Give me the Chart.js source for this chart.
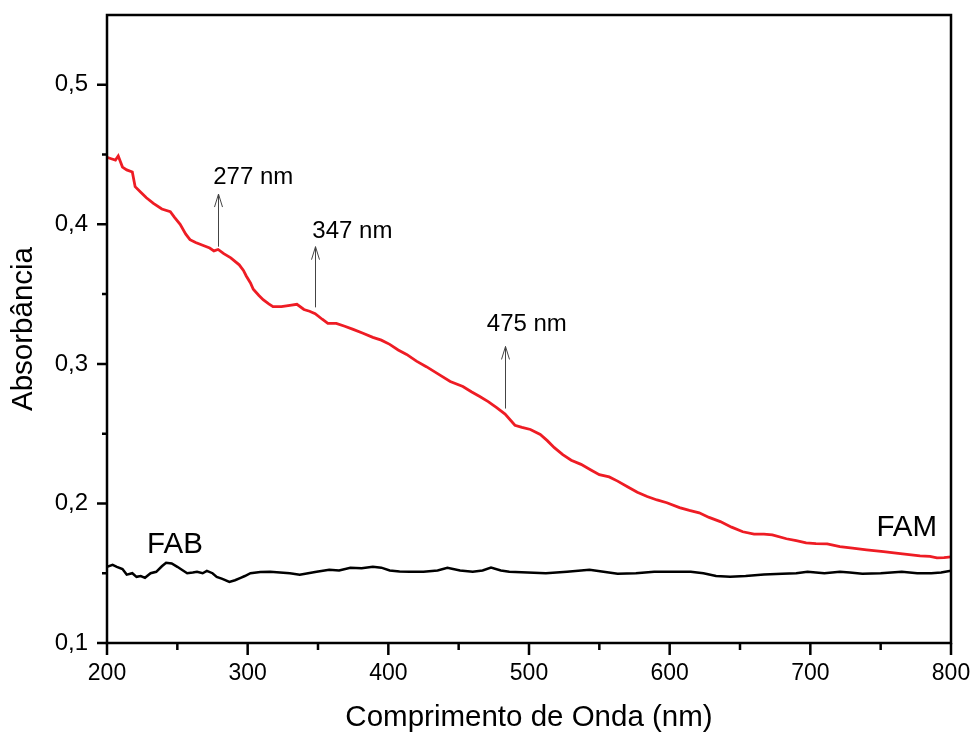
<!DOCTYPE html>
<html><head><meta charset="utf-8">
<script src="https://cdn.jsdelivr.net/npm/chart.js@4"></script>
<style>html,body{margin:0;padding:0;background:#fff}#wrap{width:970px;height:736px}</style>
</head><body><div id="wrap"><canvas id="c" width="970" height="736"></canvas></div>
<script>
// ---- data ----
const famWavelength = [200,203,206,208,211,214,218,220,224,228,233,239,245,248,252,256,259,263,268,273,276,279,283,288,294,297,299,302,304,308,311,315,318,324,330,335,340,344,348,353,357,363,369,375,382,389,395,401,407,413,420,427,435,444,453,459,465,471,477,483,490,495,501,508,513,518,524,530,537,544,550,557,563,570,577,584,591,598,607,614,621,628,636,644,652,660,667,673,683,690,697,704,712,721,730,740,752,764,778,785,790,795,800];
const famAbsorbance = [0.448,0.447,0.446,0.449,0.441,0.439,0.4375,0.427,0.423,0.419,0.415,0.411,0.409,0.405,0.400,0.393,0.389,0.387,0.385,0.383,0.381,0.382,0.379,0.376,0.371,0.367,0.363,0.358,0.3535,0.349,0.346,0.343,0.341,0.341,0.342,0.3427,0.339,0.3377,0.336,0.332,0.329,0.329,0.327,0.3247,0.322,0.319,0.317,0.314,0.310,0.3068,0.302,0.298,0.293,0.2874,0.2838,0.280,0.2766,0.273,0.2687,0.264,0.256,0.2545,0.253,0.2494,0.245,0.240,0.235,0.231,0.228,0.224,0.2206,0.219,0.216,0.212,0.208,0.205,0.2025,0.2005,0.197,0.195,0.1933,0.190,0.187,0.183,0.1797,0.178,0.178,0.1775,0.1747,0.1733,0.1718,0.1712,0.171,0.169,0.168,0.1668,0.1655,0.164,0.1625,0.162,0.161,0.1612,0.1617];
const fabWavelength = [200,204,207,211,214,218,221,224,227,231,235,239,242,246,250,254,257,261,264,268,271,275,278,282,287,291,295,298,302,309,316,323,330,337,343,349,358,365,373,381,389,395,401,408,415,425,435,442,451,460,467,473,480,486,499,512,527,543,553,563,576,589,602,615,624,633,643,654,667,680,690,698,710,721,728,737,750,765,776,786,793,800];
const fabAbsorbance = [0.1546,0.156,0.1546,0.153,0.149,0.150,0.1474,0.148,0.1467,0.150,0.151,0.155,0.1575,0.157,0.1546,0.152,0.150,0.1505,0.151,0.150,0.1517,0.150,0.1474,0.146,0.1438,0.145,0.1467,0.148,0.150,0.1508,0.151,0.1505,0.150,0.149,0.150,0.151,0.1524,0.152,0.1539,0.1535,0.1546,0.154,0.152,0.1512,0.151,0.151,0.152,0.1539,0.152,0.151,0.152,0.154,0.152,0.151,0.1505,0.150,0.151,0.1524,0.151,0.1496,0.150,0.151,0.151,0.151,0.150,0.148,0.1475,0.148,0.149,0.1496,0.150,0.151,0.150,0.151,0.1505,0.1496,0.150,0.151,0.150,0.150,0.1505,0.1517];

const xTickValues = [200,300,400,500,600,700,800];
const xTickLabels = ['200','300','400','500','600','700','800'];
const xMinorTicks = [250,350,450,550,650,750];
const yTickValues = [0.1,0.2,0.3,0.4,0.5];
const yTickLabels = ['0,1','0,2','0,3','0,4','0,5'];
const yMinorTicks = [0.15,0.25,0.35,0.45];

const peakLabels = ['277 nm','347 nm','475 nm'];
const peakArrowNm = [279,348,483];
const peakArrowBase = [0.384,0.3405,0.268];
const peakArrowTip = [0.4217,0.384,0.3125];

const seriesNames = ['FAM','FAB'];

// ---- layout (positions in data units) ----
const peakLabelPos = [{x:275.5,y:0.434},{x:346,y:0.3946},{x:470,y:0.328}];
const seriesLabelPos = [{x:747,y:0.1825},{x:228.5,y:0.170}];

const FONT = "'Liberation Sans', Arial, Helvetica, sans-serif";

function zeroPad(s) { s.paddingTop = 0; s.paddingBottom = 0; s.paddingLeft = 0; s.paddingRight = 0; }

const decor = {
  id: 'decor',
  afterDatasetsDraw(chart) {
    const {ctx, chartArea: a, scales: {x, y}} = chart;
    ctx.save();
    ctx.strokeStyle = '#000';
    ctx.lineWidth = 2.5;
    ctx.strokeRect(a.left, a.top, a.right - a.left, a.bottom - a.top);
    ctx.beginPath();
    xTickValues.forEach(v => { const p = x.getPixelForValue(v); ctx.moveTo(p, a.bottom); ctx.lineTo(p, a.bottom + 12); });
    xMinorTicks.forEach(v => { const p = x.getPixelForValue(v); ctx.moveTo(p, a.bottom); ctx.lineTo(p, a.bottom + 7); });
    yTickValues.forEach(v => { const p = y.getPixelForValue(v); ctx.moveTo(a.left, p); ctx.lineTo(a.left - 10, p); });
    yMinorTicks.forEach(v => { const p = y.getPixelForValue(v); ctx.moveTo(a.left, p); ctx.lineTo(a.left - 5, p); });
    ctx.stroke();

    // arrows
    ctx.strokeStyle = '#444';
    ctx.lineWidth = 1;
    peakArrowNm.forEach((nm, i) => {
      const px = Math.round(x.getPixelForValue(nm)) + 0.5;
      const yb = y.getPixelForValue(peakArrowBase[i]);
      const yt = y.getPixelForValue(peakArrowTip[i]);
      ctx.beginPath();
      ctx.moveTo(px, yb); ctx.lineTo(px, yt);
      ctx.moveTo(px - 4, yt + 13); ctx.lineTo(px, yt); ctx.lineTo(px + 4, yt + 13);
      ctx.stroke();
    });

    ctx.fillStyle = '#000';
    ctx.textBaseline = 'middle';
    ctx.textAlign = 'left';
    ctx.font = `24px ${FONT}`;
    peakLabels.forEach((t, i) => {
      ctx.fillText(t, x.getPixelForValue(peakLabelPos[i].x), y.getPixelForValue(peakLabelPos[i].y));
    });
    ctx.font = `29.5px ${FONT}`;
    seriesNames.forEach((t, i) => {
      ctx.fillText(t, x.getPixelForValue(seriesLabelPos[i].x), y.getPixelForValue(seriesLabelPos[i].y));
    });
    ctx.restore();
  }
};

new Chart(document.getElementById('c'), {
  type: 'line',
  data: {
    datasets: [
      { label: seriesNames[0], data: famWavelength.map((w, i) => ({x: w, y: famAbsorbance[i]})),
        borderColor: '#ee1c24', borderWidth: 2.8, pointRadius: 0, tension: 0, fill: false },
      { label: seriesNames[1], data: fabWavelength.map((w, i) => ({x: w, y: fabAbsorbance[i]})),
        borderColor: '#000', borderWidth: 2.5, pointRadius: 0, tension: 0, fill: false }
    ]
  },
  options: {
    responsive: false,
    animation: false,
    devicePixelRatio: 1,
    layout: { padding: { top: 15, right: 19, bottom: 0, left: 0 } },
    plugins: { legend: { display: false }, tooltip: { enabled: false } },
    scales: {
      x: {
        type: 'linear', min: 200, max: 800,
        afterBuildTicks: s => { s.ticks = xTickValues.map(v => ({value: v})); },
        afterFit: s => { s.height = 93; zeroPad(s); },
        ticks: { callback: (v, i) => xTickLabels[i], font: {family: FONT, size: 23}, color: '#000', padding: 17, maxRotation: 0, autoSkip: false },
        grid: { display: false, drawTicks: false, tickLength: 0 },
        border: { display: false },
        title: { display: true, text: 'Comprimento de Onda (nm)', color: '#000', font: {family: FONT, size: 29.5}, padding: {top: 0, bottom: 0} }
      },
      y: {
        type: 'linear', min: 0.1, max: 0.55,
        afterBuildTicks: s => { s.ticks = yTickValues.map(v => ({value: v})); },
        afterFit: s => { s.width = 107; zeroPad(s); },
        ticks: { callback: (v, i) => yTickLabels[i], font: {family: FONT, size: 24}, color: '#000', padding: 19, autoSkip: false },
        grid: { display: false, drawTicks: false, tickLength: 0 },
        border: { display: false },
        title: { display: true, text: 'Absorbância', color: '#000', font: {family: FONT, size: 29.5}, padding: {top: 6, bottom: 0} }
      }
    }
  },
  plugins: [decor]
});
</script></body></html>
